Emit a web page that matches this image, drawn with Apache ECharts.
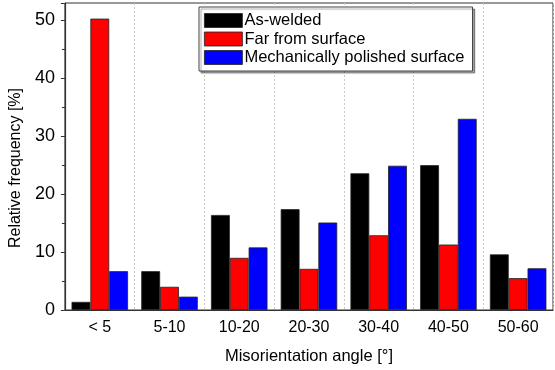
<!DOCTYPE html>
<html><head><meta charset="utf-8">
<script src="https://cdn.jsdelivr.net/npm/echarts@6/dist/echarts.min.js"></script>
<style>html,body{margin:0;padding:0;background:#fff}#c{width:555px;height:370px}</style>
</head><body><div id="c"></div>
<script>
const categories = ['< 5','5-10','10-20','20-30','30-40','40-50','50-60'];
const asWelded = [1.4, 6.7, 16.4, 17.4, 23.6, 25.0, 9.6];
const farFromSurface = [50.3, 4.0, 9.0, 7.1, 12.9, 11.3, 5.5];
const polishedSurface = [6.7, 2.3, 10.8, 15.1, 24.9, 33.0, 7.2];
const seriesNames = ['As-welded','Far from surface','Mechanically polished surface'];
const yTicks = [0,10,20,30,40,50];

const font = 'Liberation Sans, Arial, sans-serif';
const chart = echarts.init(document.getElementById('c'), null, {renderer:'canvas'});
const barStyle = c => ({color:c, borderColor:'#222', borderWidth:0.8});
chart.setOption({
  animation:false,
  textStyle:{fontFamily:font},
  grid:{left:60, right:2, top:3, bottom:60, show:true, borderColor:'#333', borderWidth:1, backgroundColor:'transparent'},
  legend:{
    orient:'vertical', left:199, top:7, itemWidth:38, itemHeight:14, itemGap:1.5,
    padding:[5,8,5,5], icon:'rect',
    backgroundColor:'#fff', borderColor:'#444', borderWidth:1,
    shadowColor:'rgba(0,0,0,0.35)', shadowOffsetX:2, shadowOffsetY:2, shadowBlur:1,
    textStyle:{fontFamily:font, fontSize:16.5, lineHeight:14, color:'#000', padding:[0,0,0,-3]},
    itemStyle:{borderColor:'#222', borderWidth:0.8},
    data:seriesNames
  },
  xAxis:[{
    type:'category', data:categories, boundaryGap:true,
    axisLine:{lineStyle:{color:'#333', width:1.2}},
    axisTick:{alignWithLabel:true, length:5, lineStyle:{color:'#333'}},
    axisLabel:{fontFamily:font, fontSize:16, color:'#000', margin:10},
    splitLine:{show:true, lineStyle:{color:'#c8c8c8', type:[2,2], width:1}},
    name:'Misorientation angle [°]', nameLocation:'middle', nameGap:38,
    nameTextStyle:{fontFamily:font, fontSize:16.5, color:'#000'}
  },{
    type:'category', data:categories, position:'bottom', boundaryGap:true,
    axisLine:{show:false}, axisLabel:{show:false},
    axisTick:{inside:false, length:3, lineStyle:{color:'#333'}},
    splitLine:{show:false}
  }],
  yAxis:{
    type:'value', min:0, max:53, interval:10,
    axisLine:{show:true, lineStyle:{color:'#333', width:1.2}},
    axisTick:{show:true, length:4, lineStyle:{color:'#333'}},
    minorTick:{show:true, splitNumber:2, length:3, lineStyle:{color:'#333'}},
    splitLine:{show:false},
    axisLabel:{fontFamily:font, fontSize:18, color:'#000', margin:10,
      formatter:v => yTicks.includes(v) ? String(v) : ''},
    name:'Relative frequency [%]', nameLocation:'middle', nameGap:35, nameRotate:90,
    nameTextStyle:{fontFamily:font, fontSize:16, color:'#000', padding:[0,23,0,0]}
  },
  series:[
    {name:seriesNames[0], type:'bar', data:asWelded, itemStyle:barStyle('#000000'), barGap:'0%', barCategoryGap:'19%'},
    {name:seriesNames[1], type:'bar', data:farFromSurface, itemStyle:barStyle('#ff0000'), barGap:'0%', barCategoryGap:'19%'},
    {name:seriesNames[2], type:'bar', data:polishedSurface, itemStyle:barStyle('#0000ff'), barGap:'0%', barCategoryGap:'19%'}
  ]
});
</script></body></html>
